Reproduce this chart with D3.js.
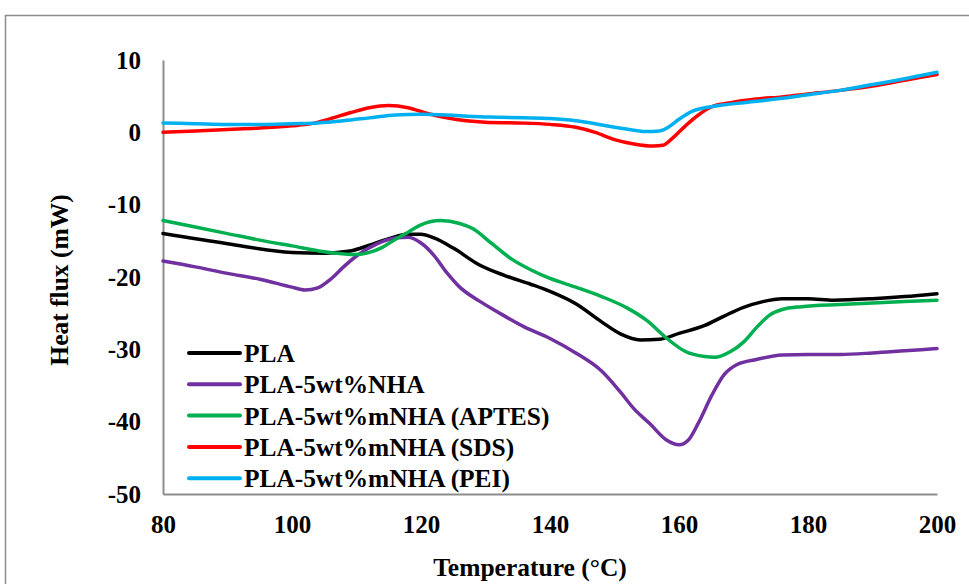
<!DOCTYPE html>
<html>
<head>
<meta charset="utf-8">
<script src="https://cdn.jsdelivr.net/npm/d3@7"></script>
<style>
  html, body { margin: 0; padding: 0; background: #fff; }
  svg { display: block; }
  text { font-family: "Liberation Serif", "Times New Roman", serif; font-weight: bold; fill: #000; }
</style>
</head>
<body>
<svg id="chart" width="969" height="584"></svg>
<script>
// DSC heating curves: temperature (°C) vs heat flux (mW)
const tPLA   = [80, 90, 100, 105, 109, 112, 115, 118, 120, 122, 125, 129, 133, 137, 140, 144, 148, 151, 154, 157, 160, 164, 167, 170, 173, 176, 180, 184, 190, 195, 200];
const vPLA   = [-14.0, -15.4, -16.6, -16.7, -16.4, -15.6, -14.7, -14.1, -14.1, -14.6, -16.0, -18.3, -19.8, -21.0, -22.0, -23.7, -26.2, -27.9, -28.7, -28.6, -27.8, -26.7, -25.4, -24.2, -23.4, -23.0, -23.0, -23.2, -23.0, -22.7, -22.3];

const tNHA   = [80, 85, 90, 95, 100, 102, 104, 106, 108, 110, 113, 116, 118, 120, 122, 124, 126, 129, 132, 136, 140, 144, 148, 151, 153, 155.5, 158, 160, 161.5, 163, 165, 167, 169, 172, 176, 180, 185, 190, 195, 200];
const vNHA   = [-17.8, -18.6, -19.5, -20.3, -21.4, -21.8, -21.5, -20.3, -18.6, -17.1, -15.5, -14.6, -14.5, -15.3, -17.0, -19.4, -21.4, -23.3, -24.9, -26.9, -28.5, -30.5, -33.0, -36.0, -38.2, -40.3, -42.5, -43.2, -42.5, -40.2, -36.5, -33.5, -32.1, -31.4, -30.8, -30.7, -30.7, -30.5, -30.2, -29.9];

const tAPTES = [80, 85, 90, 95, 100, 105, 110, 112, 114, 116, 118, 120, 123, 126, 128, 131, 134, 137, 140, 144, 148, 152, 155, 158, 161, 164, 165.5, 168, 170, 172, 174, 176, 179, 185, 190, 195, 200];
const vAPTES = [-12.2, -13.1, -14.0, -14.9, -15.7, -16.5, -16.9, -16.6, -15.9, -14.8, -13.8, -12.8, -12.2, -12.6, -13.3, -15.4, -17.5, -19.0, -20.2, -21.4, -22.7, -24.3, -26.0, -28.4, -30.3, -31.0, -31.1, -30.3, -29.0, -27.0, -25.3, -24.5, -24.1, -23.8, -23.6, -23.4, -23.2];

const tSDS   = [80, 85, 90, 95, 100, 103, 106, 109, 112, 115, 118, 121, 124, 127, 130, 135, 140, 144, 147, 150, 153, 156, 157.5, 159, 161, 163, 165, 168, 172, 176, 180, 185, 190, 195, 200];
const vSDS   = [0.0, 0.2, 0.4, 0.6, 0.9, 1.2, 1.9, 2.7, 3.4, 3.7, 3.4, 2.6, 2.0, 1.6, 1.4, 1.3, 1.1, 0.7, 0.0, -1.0, -1.6, -1.9, -1.8, -0.8, 0.9, 2.4, 3.5, 4.1, 4.6, 4.9, 5.3, 5.8, 6.4, 7.2, 8.0];

const tPEI   = [80, 85, 90, 95, 100, 104, 108, 112, 116, 120, 124, 128, 132, 136, 140, 144, 147, 150, 153, 155, 157, 158.5, 160, 162, 164, 167, 170, 175, 180, 185, 190, 195, 200];
const vPEI   = [1.3, 1.2, 1.1, 1.1, 1.2, 1.3, 1.6, 2.0, 2.4, 2.5, 2.4, 2.2, 2.1, 2.0, 1.9, 1.6, 1.2, 0.7, 0.3, 0.1, 0.2, 0.8, 1.8, 2.9, 3.4, 3.8, 4.1, 4.6, 5.2, 5.8, 6.6, 7.4, 8.3];

const seriesNames  = ["PLA", "PLA-5wt%NHA", "PLA-5wt%mNHA (APTES)", "PLA-5wt%mNHA (SDS)", "PLA-5wt%mNHA (PEI)"];
const seriesColors = ["#000000", "#7030A0", "#00B050", "#FF0000", "#00B0F0"];
const seriesTemps  = [tPLA, tNHA, tAPTES, tSDS, tPEI];
const seriesValues = [vPLA, vNHA, vAPTES, vSDS, vPEI];

const xTicks = [80, 100, 120, 140, 160, 180, 200];
const yTicks = [10, 0, -10, -20, -30, -40, -50];

const svg = d3.select("#chart");

// outer chart-area frame
svg.append("rect")
  .attr("x", 5.5).attr("y", 15.5)
  .attr("width", 1000).attr("height", 600)
  .attr("fill", "none").attr("stroke", "#8c8c8c").attr("stroke-width", 1.5);

const plot = { left: 163, right: 937, top: 60, bottom: 494 };

const x = d3.scaleLinear().domain([80, 200]).range([plot.left, plot.right]);
const y = d3.scaleLinear().domain([-50, 10]).range([plot.bottom, plot.top]);

// plain hyphen-minus labels
const fmt = d => String(d);

// axes (no tick marks, grey domain lines)
const xAxis = svg.append("g")
  .attr("transform", `translate(0,${plot.bottom})`)
  .call(d3.axisBottom(x).tickValues(xTicks).tickSize(0).tickPadding(21).tickFormat(fmt));
const yAxis = svg.append("g")
  .attr("transform", `translate(${plot.left},0)`)
  .call(d3.axisLeft(y).tickValues(yTicks).tickSize(0).tickPadding(22).tickFormat(fmt));

[xAxis, yAxis].forEach(g => {
  g.attr("font-family", null).attr("font-size", null);
  g.select(".domain").attr("stroke", "#8c8c8c").attr("stroke-width", 2);
  g.selectAll(".tick text")
    .style("font-size", "25px")
    .attr("fill", "#000");
});

// data curves
const line = d3.line()
  .x(d => x(d[0]))
  .y(d => y(d[1]))
  .curve(d3.curveMonotoneX);

seriesNames.forEach((name, i) => {
  const pts = seriesTemps[i].map((t, j) => [t, seriesValues[i][j]]);
  svg.append("path")
    .datum(pts)
    .attr("d", line)
    .attr("fill", "none")
    .attr("stroke", seriesColors[i])
    .attr("stroke-width", 3.5)
    .attr("stroke-linejoin", "round")
    .attr("stroke-linecap", "round");
});

// axis titles
svg.append("text")
  .attr("x", 530).attr("y", 576)
  .attr("text-anchor", "middle")
  .style("font-size", "25.5px")
  .text("Temperature (°C)");

svg.append("text")
  .attr("transform", "translate(68,280) rotate(-90)")
  .attr("text-anchor", "middle")
  .style("font-size", "25.5px")
  .text("Heat flux (mW)");

// legend
const legend = svg.append("g").attr("transform", "translate(189,353)");
seriesNames.forEach((name, i) => {
  const row = legend.append("g").attr("transform", `translate(0,${i * 31.3})`);
  row.append("line")
    .attr("x1", 0).attr("x2", 51).attr("y1", 0).attr("y2", 0)
    .attr("stroke", seriesColors[i]).attr("stroke-width", 4)
    .attr("stroke-linecap", "round");
  row.append("text")
    .attr("x", 55).attr("y", 9)
    .style("font-size", "25.4px")
    .text(name);
});
</script>
</body>
</html>
